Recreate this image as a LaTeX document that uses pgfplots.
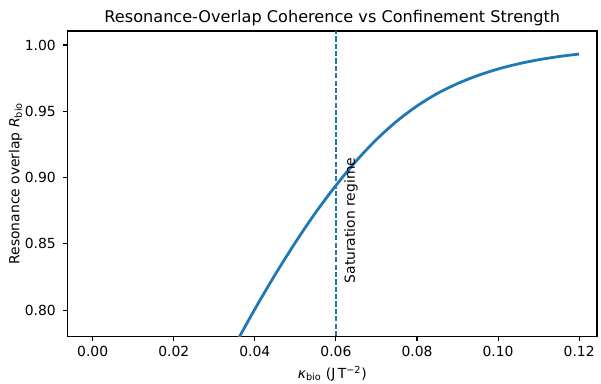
\documentclass[border=0pt]{standalone}
\usepackage{fontspec}
\setmainfont{DejaVu Sans}
\usepackage{pgfplots}
\pgfplotsset{compat=1.18}
\definecolor{mplblue}{HTML}{1F77B4}
\begin{document}
\begin{tikzpicture}
\begin{axis}[
  scale only axis,
  width=381pt, height=219.6pt,
  xmin=-0.00617, xmax=0.1244,
  ymin=0.7804, ymax=1.0106,
  xtick={0,0.02,0.04,0.06,0.08,0.1,0.12},
  ytick={0.80,0.85,0.90,0.95,1.00},
  tick pos=left,
  tick align=outside,
  major tick length=3.5pt,
  every tick/.style={black, line width=0.8pt},
  axis line style={line width=0.8pt},
  /pgf/number format/assume math mode=true,
  xticklabel style={/pgf/number format/.cd, fixed, fixed zerofill, precision=2},
  yticklabel style={xshift=-1.5pt, /pgf/number format/.cd, fixed, fixed zerofill, precision=2},
  scaled x ticks=false, scaled y ticks=false,
  ticklabel style={font=\fontsize{10}{12}\selectfont},
  label style={font=\fontsize{10}{12}\selectfont},
  title style={font=\fontsize{11.6}{14}\selectfont, yshift=-6pt},
  title={Resonance-Overlap Coherence vs Confinement Strength},
  xlabel={\textit{κ}\textsubscript{bio} (J\,T\textsuperscript{−2})},
  ylabel={Resonance overlap \textit{R}\textsubscript{bio}},
  ylabel style={yshift=-5pt},
]
\addplot[mplblue, line width=2pt, smooth] coordinates {
(0.030,0.7441) (0.035,0.7731) (0.040,0.8007) (0.045,0.8267) (0.050,0.8510)
(0.055,0.8736) (0.060,0.8940) (0.065,0.9125) (0.070,0.9287) (0.075,0.9425)
(0.080,0.9540) (0.085,0.9634) (0.090,0.9709) (0.095,0.9770) (0.100,0.9819)
(0.105,0.9858) (0.110,0.9889) (0.115,0.9913) (0.120,0.9932)
};
\addplot[mplblue, line width=1pt, dash pattern=on 3.7pt off 1.6pt] coordinates {(0.06,0.7804) (0.06,1.0106)};
\node[rotate=90, anchor=north west, inner sep=0pt, font=\fontsize{10}{12}\selectfont] at (axis cs:0.062,0.82) {Saturation regime};
\end{axis}
\pgfresetboundingbox
\path ([xshift=-48.7pt,yshift=-33.8pt]current axis.south west) rectangle ([xshift=2.9pt,yshift=22.3pt]current axis.north east);
\end{tikzpicture}
\end{document}
